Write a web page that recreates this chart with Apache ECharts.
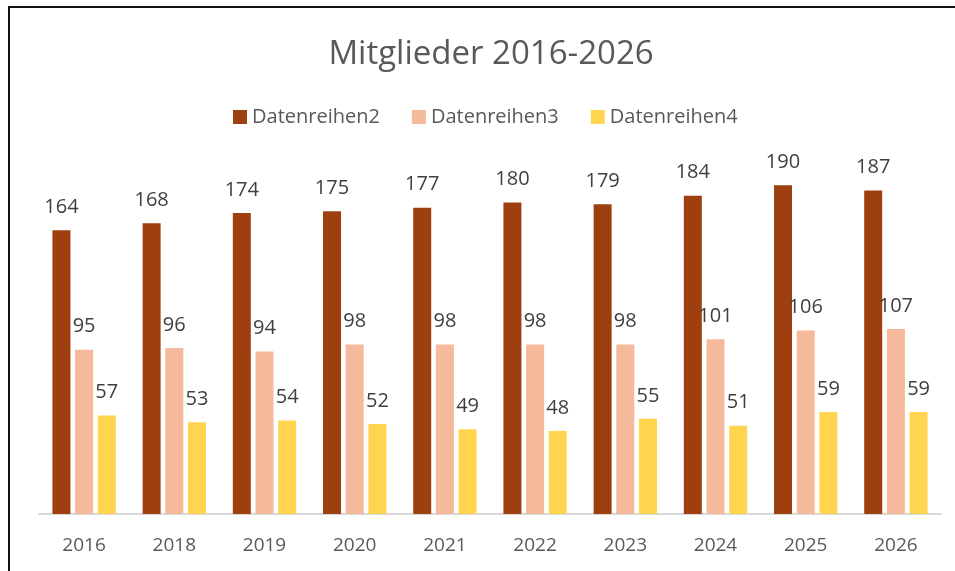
<!DOCTYPE html>
<html>
<head>
<meta charset="utf-8">
<script src="https://cdn.jsdelivr.net/npm/echarts@6/dist/echarts.min.js"></script>
<style>
  html, body { margin: 0; padding: 0; background: #fff; }
  #chart { width: 955px; height: 571px; }
</style>
</head>
<body>
<div id="chart"></div>
<script>
// Daten
const years = ['2016', '2018', '2019', '2020', '2021', '2022', '2023', '2024', '2025', '2026'];
const reihe2 = [164, 168, 174, 175, 177, 180, 179, 184, 190, 187];
const reihe3 = [95, 96, 94, 98, 98, 98, 98, 101, 106, 107];
const reihe4 = [57, 53, 54, 52, 49, 48, 55, 51, 59, 59];
const seriesNames = ['Datenreihen2', 'Datenreihen3', 'Datenreihen4'];
const colors = ['#9e3f10', '#f5b99b', '#ffd54f'];

let myChart = echarts.init(document.getElementById('chart'));

function makeSeries(name, data, color) {
	return {
		name: name,
		type: 'bar',
		data: data,
		barWidth: 18,
		barGap: '26%',
		itemStyle: { color: color },
		label: {
			show: true,
			position: 'top',
			distance: 13,
			color: '#404040',
			fontSize: 20,
			fontFamily: 'Open Sans'
		}
	};
}

let option = {
	animation: false,
	textStyle: { fontFamily: 'Open Sans' },
	title: {
		text: 'Mitglieder 2016-2026',
		left: 486,
		textAlign: 'center',
		top: 33,
		textStyle: { fontSize: 33, fontWeight: 'normal', color: '#595959', fontFamily: 'Open Sans' }
	},
	legend: {
		data: seriesNames,
		top: 102,
		left: 228,
		itemWidth: 14,
		itemHeight: 14,
		itemGap: 32,
		icon: 'rect',
		textStyle: { fontSize: 20, color: '#595959', fontFamily: 'Open Sans' }
	},
	// Rahmen
	graphic: [{
		type: 'rect',
		shape: { x: 9, y: 7, width: 1000, height: 700 },
		style: { fill: 'none', stroke: '#111', lineWidth: 2 },
		silent: true
	}],
	grid: { left: 39, right: 14, top: 168, bottom: 57 },
	xAxis: {
		type: 'category',
		data: years,
		axisLine: { lineStyle: { color: '#d9d9d9', width: 2 } },
		axisTick: { show: false },
		axisLabel: { color: '#595959', fontSize: 19, margin: 22, fontFamily: 'Open Sans' }
	},
	yAxis: {
		type: 'value',
		min: 0,
		max: 200,
		show: false
	},
	series: [
		makeSeries(seriesNames[0], reihe2, colors[0]),
		makeSeries(seriesNames[1], reihe3, colors[1]),
		makeSeries(seriesNames[2], reihe4, colors[2])
	]
};
myChart.setOption(option);
</script>
</body>
</html>
